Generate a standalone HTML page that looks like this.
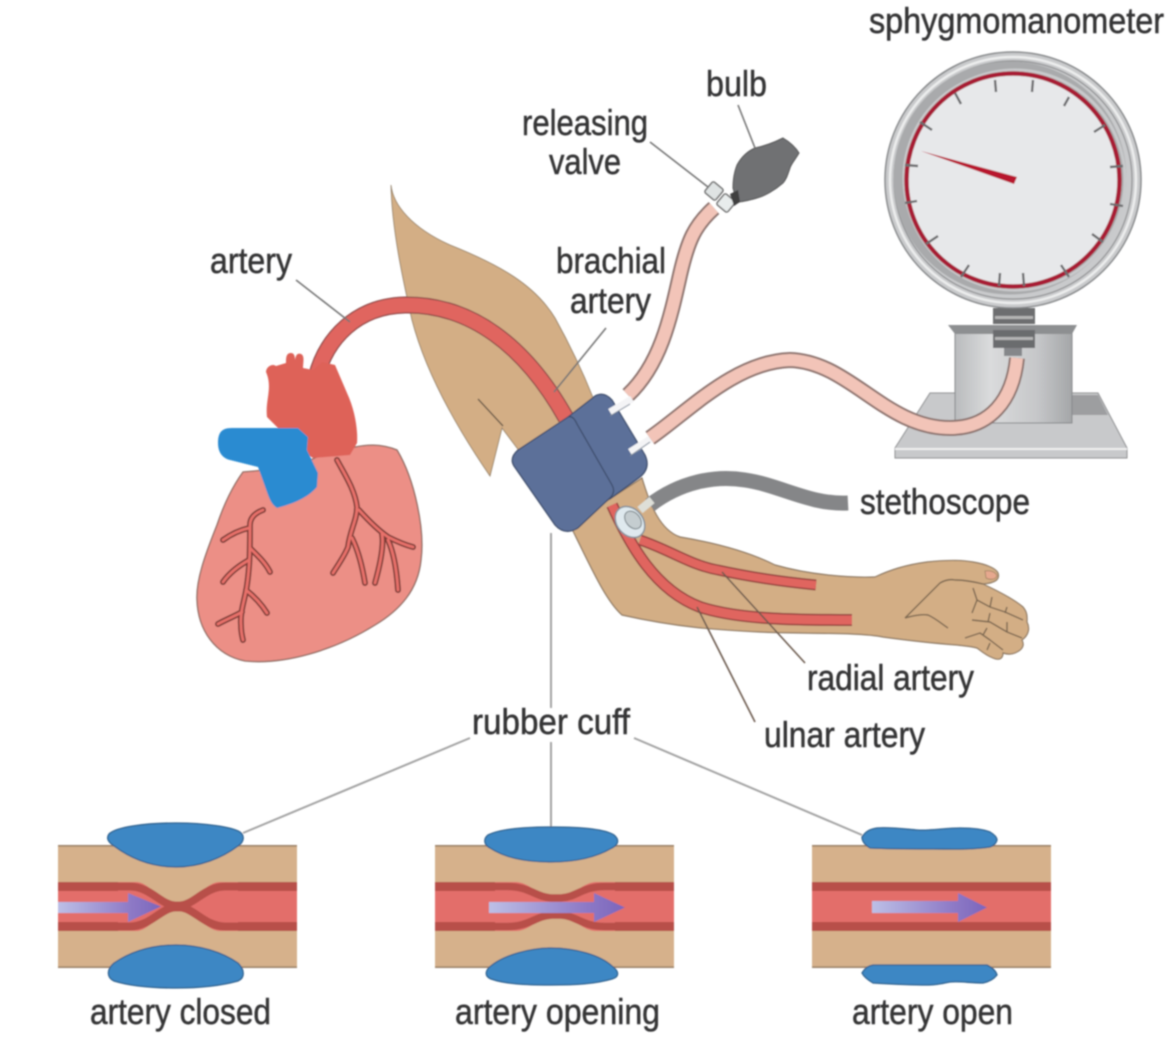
<!DOCTYPE html>
<html><head><meta charset="utf-8"><style>
html,body{margin:0;padding:0;background:#fff;width:1170px;height:1045px;overflow:hidden}
svg{display:block}
text{font-family:"Liberation Sans",sans-serif;font-size:36px;fill:#343436;stroke:#343436;stroke-width:.5}
</style></head><body>
<svg width="1170" height="1045" viewBox="0 0 1170 1045" xmlns="http://www.w3.org/2000/svg">
<defs>
<filter id="b" x="-5%" y="-5%" width="110%" height="110%"><feGaussianBlur stdDeviation="0.7"/></filter>
<linearGradient id="box" x1="0" x2="1" y1="0" y2="0"><stop offset="0" stop-color="#b9bbbd"/><stop offset=".3" stop-color="#dadbdc"/><stop offset=".7" stop-color="#c6c7c9"/><stop offset="1" stop-color="#a4a6a8"/></linearGradient>
<linearGradient id="fade" x1="0" x2="1" y1="0" y2="0"><stop offset="0" stop-color="#bcbfe6"/><stop offset=".7" stop-color="#8e7ac6"/><stop offset="1" stop-color="#7b66bc"/></linearGradient>
<g id="panelbase">
<rect x="0" y="0" width="239" height="123" fill="#d6b18b"/>
<path d="M0 .8H239M0 122.2H239" stroke="#9b8267" stroke-width="1.6"/>
</g>
</defs>
<g filter="url(#b)">

<!-- upper arm -->
<path d="M391 185C393 205 412 228 450 245C500 265 535 285 555 318C570 345 582 370 594 400L520 452L502 428L490 476C455 425 425 370 412 320C403 280 392 230 391 185Z" fill="#d3ae85" stroke="#8d7a62" stroke-width=".8"/>
<path d="M478 399L503 426" stroke="#6b5a48" stroke-width="1.4" fill="none"/>
<!-- forearm + hand -->
<path d="M642 478C650 505 660 530 680 537C710 542 745 550 775 565C810 575 850 578 875 577C890 570 905 565 927 562C945 560 962 560 973 562C985 564 996 568 998 573C1000 579 996 583 983 584C1000 592 1015 600 1023 607C1028 613 1027 618 1027 622C1030 628 1029 635 1022 640C1025 646 1022 650 1015 653C1010 655 1006 654 1003 653C1003 658 1000 661 993 658C985 655 980 650 977 648C970 646 964 646 957 645C930 643 905 640 883 637C860 632 800 634 760 632C720 630 680 628 622 615C605 600 590 565 570 525Z" fill="#d3ae85" stroke="#8a7660" stroke-width="1.2"/>
<!-- hand lines -->
<g fill="none" stroke="#7a6650" stroke-width="1.4" stroke-linejoin="round">
<path d="M905 618L940 583C945 580 950 579 955 580C965 580 975 582 983 584"/>
<path d="M905 618C915 615 922 614 928 615C935 618 942 624 948 628"/>
<path d="M973 588L977 600L972 613"/>
<path d="M977 600L990 607L1005 612L1023 620"/>
<path d="M972 620L990 622L1007 632L1022 638"/>
<path d="M965 638L980 633L990 640L1003 650"/>
<path d="M992 597L990 607M1007 607L1005 613M990 613L988 622M1007 622L1007 632M987 628L983 635M990 643L987 650"/>
</g>
<path d="M985 571C990 570 996 572 997 576C995 580 990 580 986 578Z" fill="#e6a88e" stroke="#a08060" stroke-width=".8"/>

<!-- main artery -->
<path d="M316 378C326 338 357 306 405 305C470 304 525 345 566 418" fill="none" stroke="#8f4a48" stroke-width="17"/>
<path d="M316 378C326 338 357 306 405 305C470 304 525 345 566 418" fill="none" stroke="#e0655f" stroke-width="14.5"/>
<!-- forearm arteries -->
<path d="M612 505C630 545 655 590 700 607C740 620 800 620 852 620" fill="none" stroke="#95433f" stroke-width="12"/>
<path d="M612 505C630 545 655 590 700 607C740 620 800 620 852 620" fill="none" stroke="#e0655f" stroke-width="9"/>
<path d="M640 540C670 550 690 565 718 570C750 577 785 582 816 585" fill="none" stroke="#95433f" stroke-width="11"/>
<path d="M640 540C670 550 690 565 718 570C750 577 785 582 816 585" fill="none" stroke="#e0655f" stroke-width="8"/>

<!-- heart -->
<path d="M243 472C230 490 222 510 217 525C205 555 196 580 197 600C198 630 215 655 245 661C285 665 335 650 375 625C400 610 418 590 421 560C425 530 415 480 397 450C380 443 365 445 355 447L320 455C300 468 265 470 243 472Z" fill="#ec8f86" stroke="#8d6a62" stroke-width="1.3"/>
<path d="M266 372C266 367 272 363 276 366L286 363C286 358 286 353 291 353C294 353 295 356 295 360C296 354 298 353 301 354C305 356 303 362 303 368L313 370L322 362L335 365L347 393C355 410 358 430 357 443L350 455L313 458L300 450L267 417C265 400 273 388 266 372Z" fill="#de6259"/>
<path d="M218 443C218 432 222 428 232 428L298 428L308 437L307 450L318 473L317 487C310 495 300 502 277 508C272 505 270 500 268 495L258 467L230 460C222 458 218 452 218 443Z" fill="#2b8bd1"/>
<!-- coronary -->
<g fill="none" stroke="#7c3a36" stroke-width="6" stroke-linecap="round" stroke-linejoin="round">
<path id="c1" d="M337 460C345 475 355 490 357 507C357 520 350 530 348 547C345 555 338 565 333 573M352 538C358 550 362 565 365 583M359 510C368 520 378 530 388 537C398 542 405 545 413 547M382 534C384 545 380 565 375 583M388 540C395 555 397 575 398 590"/>
<path id="c2" d="M263 510C255 513 250 518 250 525C250 545 250 565 247 585C245 600 240 610 241 625C241 632 242 636 243 640M249 528C240 530 230 535 223 540M249 560C240 565 230 572 223 582M250 548C257 555 265 562 270 572M246 590C255 597 262 605 267 613M242 612C235 616 225 620 218 624"/>
</g>
<g fill="none" stroke="#e8716a" stroke-width="2.8" stroke-linecap="round" stroke-linejoin="round">
<use href="#c1"/><use href="#c2"/>
</g>

<!-- cuff -->
<path d="M568 417L595 396Q604 391 612 400L645 455Q651 468 640 477L610 499Z" fill="#5c7099" stroke="#3b4a68" stroke-width="1.2"/>
<path d="M568 417L518 450Q509 458 514 466L555 525Q565 536 578 528L610 498Q616 492 612 485L577 424Q573 415 568 417Z" fill="#5c7099" stroke="#3b4a68" stroke-width="1.2"/>

<!-- bulb hose -->
<path d="M628 395C660 365 670 320 680 275C688 240 695 225 714 208" fill="none" stroke="#8e7470" stroke-width="16"/>
<path d="M628 395C660 365 670 320 680 275C688 240 695 225 714 208" fill="none" stroke="#f2c4b8" stroke-width="12"/>
<path d="M610 412L632 399M630 452L652 438" stroke="#f4f4f6" stroke-width="7"/>
<path d="M610 416L630 404M630 456L650 442" stroke="#7b8797" stroke-width="1" fill="none"/>

<!-- valve + bulb -->
<path d="M733 188C733 178 735 170 737 165C742 156 748 151 755 148C765 146 775 142 783 138C790 142 796 148 799 153C795 160 791 164 790 168C788 174 786 180 783 183C775 190 765 196 757 198C750 200 743 202 737 202Z" fill="#707173" stroke="#555" stroke-width="1"/>
<rect x="707" y="184" width="14" height="14" rx="2" transform="rotate(40 714 191)" fill="#dfe3e3" stroke="#6d6d6d" stroke-width="1.5"/>
<rect x="719" y="196" width="14" height="14" rx="2" transform="rotate(40 726 203)" fill="#e8ecec" stroke="#6d6d6d" stroke-width="1.5"/>
<path d="M730 194L738 190L740 202L734 206Z" fill="#3f3f40"/>

<!-- stand -->
<path d="M930 393H1098L1127 448V458H895V448Z" fill="#c8c9cb" stroke="#8a8b8d" stroke-width="1"/>
<path d="M895 449H1127" stroke="#f0f0f0" stroke-width="2"/>
<path d="M1072 395H1098L1108 415H1072Z" fill="#9d9ea0"/>
<rect x="955" y="333" width="117" height="90" fill="url(#box)" stroke="#85878a" stroke-width="1"/>
<path d="M948 325H1077L1072 334H955Z" fill="#8d8f91"/>
<rect x="993" y="308" width="42" height="16" fill="#6d6e70"/>
<rect x="993" y="330" width="42" height="18" fill="#6b6c6e"/>
<rect x="1004" y="348" width="18" height="8" fill="#85878a"/>
<rect x="995" y="316" width="38" height="3" fill="#b4b4b4"/>
<rect x="995" y="337" width="38" height="3" fill="#b4b4b4"/>
<!-- big hose -->
<path d="M650 438C690 410 735 362 790 360C850 362 885 428 950 428C990 428 1013 400 1017 358" fill="none" stroke="#8e7470" stroke-width="16"/>
<path d="M650 438C690 410 735 362 790 360C850 362 885 428 950 428C990 428 1013 400 1017 358" fill="none" stroke="#f2c4b8" stroke-width="12"/>

<!-- gauge -->
<circle cx="1013" cy="180" r="128" fill="#c9cacc" stroke="#86888a" stroke-width="1.5"/>
<circle cx="1013" cy="180" r="123" fill="none" stroke="#eceded" stroke-width="2.5"/>
<circle cx="1013" cy="180" r="119" fill="none" stroke="#8f9092" stroke-width="1.2"/>
<circle cx="1010" cy="178" r="112" fill="none" stroke="#a9aaac" stroke-width="9"/>
<circle cx="1015" cy="180" r="110" fill="none" stroke="#c8c9cb" stroke-width="3"/>
<circle cx="1013" cy="180" r="106.5" fill="#e7e8ea" stroke="#a81e35" stroke-width="4.5"/>
<g stroke="#6c6c6e" stroke-width="2.4">
<path d="M995 80L996 92M1033 80L1032 92M955 93L961 104M1069 97L1064 106M920 122L932 130M1105 125L1094 132M905 165L918 166M1123 166L1110 167M905 203L917 201M1123 206L1110 204M926 244L938 236M1103 242L1092 234M961 277L969 265M1069 277L1061 265M999 286L1000 273M1024 286L1023 273"/>
</g>
<path d="M921 151L1017 177L1014 184Z" fill="#b8142e"/>

<!-- stethoscope -->
<path d="M650 505C680 482 715 475 745 480C780 485 810 505 848 503" fill="none" stroke="#858688" stroke-width="15"/>
<path d="M652 500L640 510" stroke="#dedfd8" stroke-width="8"/>
<ellipse cx="630" cy="522" rx="13" ry="17" transform="rotate(-40 630 522)" fill="#dfe9ee" stroke="#84909a" stroke-width="1.5"/>
<ellipse cx="633" cy="520" rx="7" ry="10" transform="rotate(-40 633 520)" fill="#c5cdd0" stroke="#737d82" stroke-width="1"/>

<!-- leader lines -->
<g fill="none" stroke="#767676" stroke-width="1.6">
<path d="M296 280L350 322"/>
<path d="M606 328L554 392"/>
<path d="M650 142L708 187"/>
<path d="M738 105L755 148"/>
<path d="M722 572L805 663" stroke="#6c5a4e"/>
<path d="M697 607L755 722" stroke="#6c5a4e"/>
</g>
<g fill="none" stroke="#a3a3a3" stroke-width="2">
<path d="M551 533V708"/><path d="M551 742V830"/>
<path d="M470 738L243 833"/><path d="M634 738L862 835"/>
</g>

<!-- panel 1 -->
<g transform="translate(58 845)">
<use href="#panelbase"/>
<path d="M0 37H78C92 37 105 60 117 60H122C134 60 147 37 162 37H239V86H162C147 86 134 63 122 63H117C105 63 92 86 78 86H0Z" fill="#e36e6a"/>
<path d="M0 41.500H72C92 41.500 103 60 117 60.500H122C136 60 147 41.500 167 41.500H239M0 81.500H72C92 81.500 103 63 117 62.500H122C136 63 147 81.500 167 81.500H239" fill="none" stroke="#b8504a" stroke-width="8"/>
<path d="M0 41.500H60M180 41.500H239M0 81.500H60M180 81.500H239" stroke="#b8504a" stroke-width="9"/>
<path d="M0 57H70V48L103 61.500L70 77V68H0Z" fill="url(#fade)"/>
</g>
<path d="M109 834C116 827 145 823 176 823C205 823 232 827 240 832C245 836 244 842 238 846C222 858 200 867 176 867C150 867 130 858 114 846C108 842 106 838 109 834Z" fill="#3e87c4" stroke="#2d608e" stroke-width="1.3"/>
<path d="M114 963C130 952 150 945 176 945C200 945 222 952 238 963C245 970 245 978 238 981C220 986 200 988 176 988C150 988 130 986 114 981C106 977 107 969 114 963Z" fill="#3e87c4" stroke="#2d608e" stroke-width="1.3"/>

<!-- panel 2 -->
<g transform="translate(435 845)">
<use href="#panelbase"/>
<path d="M0 37H239V86H0Z" fill="#e36e6a"/>
<path d="M80 37C95 37 102 51 117 51H126C140 51 147 37 162 37Z" fill="#d6b18b"/>
<path d="M80 86C95 86 102 73 117 71H126C140 73 147 86 162 86Z" fill="#d6b18b"/>
<path d="M0 41.500H72C95 41.500 100 52 117 53H126C142 52 147 41.500 170 41.500H239M0 81.500H72C95 81.500 100 71 117 70H126C142 71 147 81.500 170 81.500H239" fill="none" stroke="#b8504a" stroke-width="7.500"/>
<path d="M0 41.500H60M180 41.500H239M0 81.500H60M180 81.500H239" stroke="#b8504a" stroke-width="9"/>
<path d="M54 57H159V48L190 62.500L159 77V68H54Z" fill="url(#fade)"/>
</g>
<path d="M488 835C500 829 525 827 551 827C580 827 605 829 614 835C620 840 618 845 612 848C595 858 575 862 551 862C525 862 505 858 490 848C484 845 483 839 488 835Z" fill="#3e87c4" stroke="#2d608e" stroke-width="1.3"/>
<path d="M492 965C505 955 530 948 551 948C575 948 600 955 612 966C620 972 619 977 612 979C595 984 575 985 551 985C525 985 505 984 491 979C484 976 485 970 492 965Z" fill="#3e87c4" stroke="#2d608e" stroke-width="1.3"/>

<!-- panel 3 -->
<g transform="translate(812 845)">
<use href="#panelbase"/>
<rect x="0" y="37" width="239" height="49" fill="#e36e6a"/>
<rect x="0" y="37" width="239" height="9" fill="#b8504a"/>
<rect x="0" y="77" width="239" height="9" fill="#b8504a"/>
<path d="M60 56H146V48L175 62.500L146 77V68H60Z" fill="url(#fade)"/>
</g>
<path d="M862 837C866 831 870 829 877 828C890 827 905 829 917 830C930 831 945 828 960 828C975 828 985 830 990 832C995 835 997 838 997 840C996 844 993 846 990 847C970 850 950 849 933 849C910 849 890 849 870 848C865 845 862 841 862 837Z" fill="#3e87c4" stroke="#2d608e" stroke-width="1.3"/>
<path d="M862 973C865 968 868 966 873 965H987C993 968 996 971 997 975C993 980 988 982 983 983C970 983 960 981 950 982C940 984 935 985 927 985C910 985 890 984 873 983C868 980 864 977 862 973Z" fill="#3e87c4" stroke="#2d608e" stroke-width="1.3"/>

<!-- labels -->
<text x="869" y="33" textLength="295" lengthAdjust="spacingAndGlyphs">sphygmomanometer</text>
<text x="706" y="96" textLength="61" lengthAdjust="spacingAndGlyphs">bulb</text>
<text x="522" y="135" textLength="126" lengthAdjust="spacingAndGlyphs">releasing</text>
<text x="549" y="174" textLength="72" lengthAdjust="spacingAndGlyphs">valve</text>
<text x="210" y="273" textLength="82" lengthAdjust="spacingAndGlyphs">artery</text>
<text x="556" y="273" textLength="110" lengthAdjust="spacingAndGlyphs">brachial</text>
<text x="570" y="313" textLength="81" lengthAdjust="spacingAndGlyphs">artery</text>
<text x="860" y="514" textLength="170" lengthAdjust="spacingAndGlyphs">stethoscope</text>
<text x="807" y="690" textLength="167" lengthAdjust="spacingAndGlyphs">radial artery</text>
<text x="764" y="747" textLength="161" lengthAdjust="spacingAndGlyphs">ulnar artery</text>
<text x="472" y="734" textLength="158" lengthAdjust="spacingAndGlyphs">rubber cuff</text>
<text x="90" y="1024" textLength="181" lengthAdjust="spacingAndGlyphs">artery closed</text>
<text x="455" y="1024" textLength="205" lengthAdjust="spacingAndGlyphs">artery opening</text>
<text x="852" y="1024" textLength="161" lengthAdjust="spacingAndGlyphs">artery open</text>
</g>
</svg>
</body></html>
